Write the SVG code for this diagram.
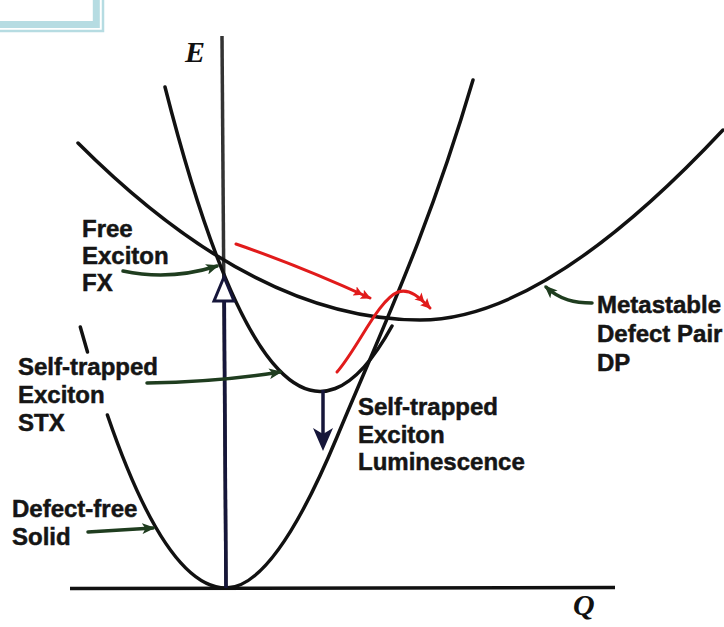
<svg xmlns="http://www.w3.org/2000/svg" width="724" height="627" viewBox="0 0 724 627">
<style>
.curve{fill:none;stroke:#111;stroke-width:3.5;stroke-linecap:round}
.lbl{font-family:"Liberation Sans",Arial,sans-serif;font-weight:bold;font-size:24px;fill:#151515;stroke:#151515;stroke-width:0.5}
.ax{font-family:"Liberation Serif","Times New Roman",serif;font-weight:bold;font-style:italic;font-size:30px;fill:#111}
.green{fill:none;stroke:#1f3d1f;stroke-width:3.5;stroke-linecap:round}
.red{fill:none;stroke:#e11b1b;stroke-width:3;stroke-linecap:round}
.navy{stroke:#16163a;stroke-width:3.5}
</style>
<defs>
<marker id="g" viewBox="0 0 12 10" refX="10" refY="5" markerWidth="13" markerHeight="11" markerUnits="userSpaceOnUse" orient="auto"><path d="M0,0 L12,5 L0,10 L3,5 z" fill="#1f3d1f"/></marker>
<marker id="r" viewBox="0 0 18 10" refX="17" refY="5" markerWidth="18" markerHeight="10" markerUnits="userSpaceOnUse" orient="auto"><path d="M0,0 L9,5 L0,10 L2,5z M8,0 L18,5 L8,10 L10,5z" fill="#e11b1b"/></marker>
</defs>
<rect width="724" height="627" fill="#fff"/>
<g id="corner">
<rect x="-20" y="-20" width="116.3" height="44.5" fill="none" stroke="#b6dce2" stroke-width="7"/>
<rect x="-20" y="-20" width="123" height="51" fill="none" stroke="#b6dce2" stroke-width="2.5"/>
</g>
<g id="axes">
<line x1="222" y1="36" x2="226" y2="588" stroke="#333" stroke-width="3.5"/>
<line x1="70" y1="588.5" x2="615" y2="587.5" stroke="#111" stroke-width="3.5"/>
<text class="ax" x="185" y="62">E</text>
<text class="ax" x="573" y="615">Q</text>
</g>
<g id="ground-curve">
<path class="curve" d="M80.3,327 L87.5,352"/>
<path class="curve" d="M107.4,415 Q166.7,588 226,588 C258,588 295,538 337,437 C382,329 428,233 473,80"/>
</g>
<g id="stx-curve">
<path class="curve" d="M165,87 Q278.5,532.5 392,326"/>
</g>
<g id="dp-curve">
<path class="curve" d="M78,143 C196,261 310,320 420,320 C503,320 604,257 723,130"/>
</g>
<g id="connectors">
<line class="navy" x1="224.3" y1="300" x2="226" y2="588"/>
<polygon points="224,277 214,301 234,301" fill="#fff" stroke="#16163a" stroke-width="3" stroke-linejoin="miter"/>
<line class="navy" x1="323" y1="390" x2="323" y2="436"/>
<polygon points="313,428 323,451 333,428 323,434" fill="#16163a"/>
<path class="red" d="M236,244 Q300,266 370,298" marker-end="url(#r)"/>
<path class="red" d="M337,372 C358,348 378,300 398,292 C410,288 420,298 430,308" marker-end="url(#r)"/>
<path class="green" d="M123,271 Q170,281 217,266" marker-end="url(#g)"/>
<path class="green" d="M147,383 Q220,382 280,372" marker-end="url(#g)"/>
<path class="green" d="M592,303 C575,303 560,300 546,287" marker-end="url(#g)"/>
<path class="green" d="M88,532 L153,528" marker-end="url(#g)"/>
</g>
<g id="fx-label">
<text class="lbl" x="82" y="237">Free</text>
<text class="lbl" x="82" y="264">Exciton</text>
<text class="lbl" x="82" y="291">FX</text>
</g>
<g id="stx-label">
<text class="lbl" x="18" y="375">Self-trapped</text>
<text class="lbl" x="18" y="403">Exciton</text>
<text class="lbl" x="18" y="431">STX</text>
</g>
<g id="lum-label">
<text class="lbl" x="358" y="415">Self-trapped</text>
<text class="lbl" x="358" y="443">Exciton</text>
<text class="lbl" x="358" y="470">Luminescence</text>
</g>
<g id="dp-label">
<text class="lbl" x="597" y="313">Metastable</text>
<text class="lbl" x="597" y="342">Defect Pair</text>
<text class="lbl" x="597" y="371">DP</text>
</g>
<g id="solid-label">
<text class="lbl" x="12" y="517">Defect-free</text>
<text class="lbl" x="12" y="545">Solid</text>
</g>
</svg>
